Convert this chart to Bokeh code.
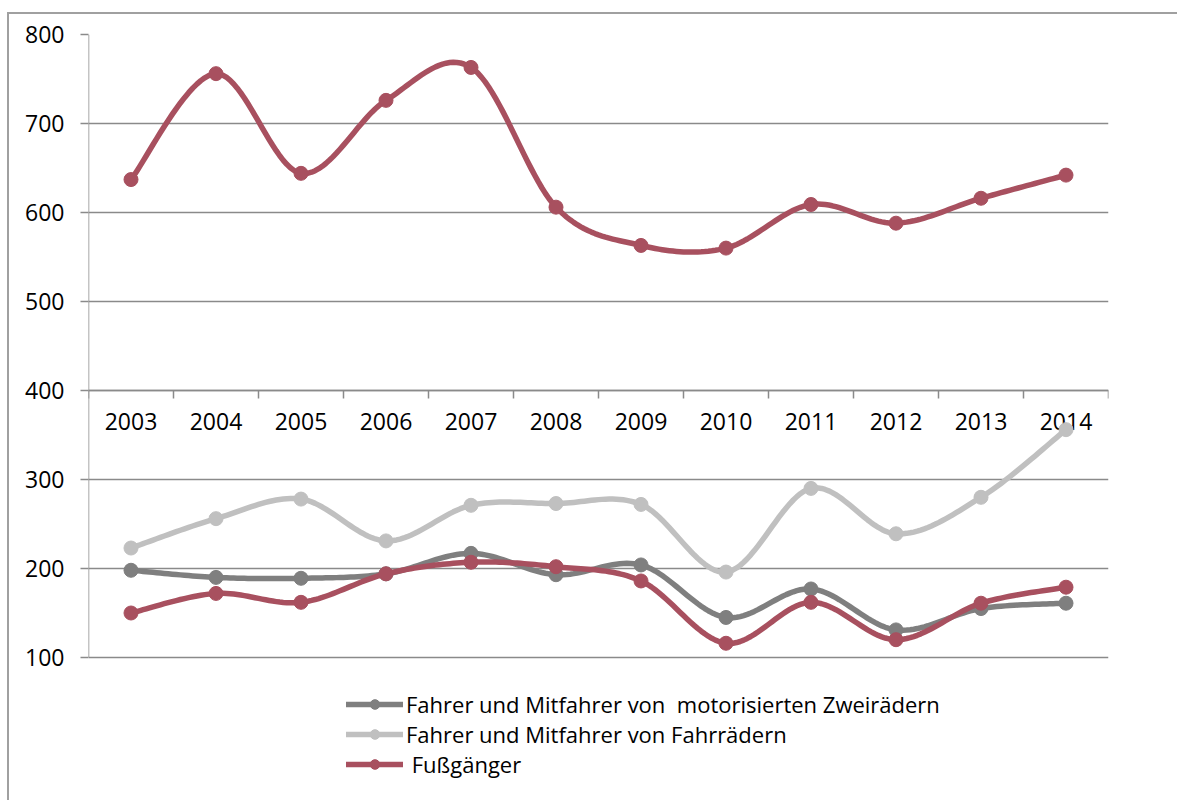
import numpy as np
from bokeh.plotting import figure
from bokeh.models import Range1d, FixedTicker, Span, Legend, LegendItem
from bokeh.core.properties import value
from bokeh.embed import file_html
from bokeh.resources import INLINE

years = ["2003", "2004", "2005", "2006", "2007", "2008", "2009", "2010", "2011", "2012", "2013", "2014"]
y_ticks = [100, 200, 300, 400, 500, 600, 700, 800]

motorrad = [198, 190, 189, 194, 217, 193, 204, 145, 177, 131, 155, 161]
fahrrad = [223, 256, 278, 231, 271, 273, 272, 196, 290, 239, 280, 356]
fussgaenger = [150, 172, 162, 194, 207, 202, 186, 116, 162, 120, 161, 179]
obere_reihe = [637, 756, 644, 726, 763, 606, 563, 560, 609, 588, 616, 642]

names = ["Fahrer und Mitfahrer von  motorisierten Zweirädern",
         "Fahrer und Mitfahrer von Fahrrädern",
         " Fußgänger"]

RED = "#a8505f"
DARK = "#7f7f7f"
LIGHT = "#c0c0c0"
GRID = "#8a8a8a"
FONT = "Open Sans"

xs = np.arange(len(years)) + 0.5
Y_MIN, Y_MAX = y_ticks[0], y_ticks[-1]


def smooth(x, y, n=24):
    x = np.asarray(x, float)
    y = np.asarray(y, float)
    px = np.concatenate([[x[0]], x, [x[-1]]])
    py = np.concatenate([[y[0]], y, [y[-1]]])
    ox, oy = [], []
    for i in range(1, len(px) - 2):
        p0x, p1x, p2x, p3x = px[i - 1], px[i], px[i + 1], px[i + 2]
        p0y, p1y, p2y, p3y = py[i - 1], py[i], py[i + 1], py[i + 2]
        c1x, c1y = p1x + (p2x - p0x) / 6, p1y + (p2y - p0y) / 6
        c2x, c2y = p2x - (p3x - p1x) / 6, p2y - (p3y - p1y) / 6
        t = np.linspace(0, 1, n, endpoint=(i == len(px) - 3))
        a = (1 - t) ** 3
        b = 3 * (1 - t) ** 2 * t
        c = 3 * (1 - t) * t ** 2
        d = t ** 3
        ox.extend(a * p1x + b * c1x + c * c2x + d * p2x)
        oy.extend(a * p1y + b * c1y + c * c2y + d * p2y)
    return ox, oy


# layout: value area is 623 px tall for 700 units; frame extends below it to hold the legend
PX_PER_UNIT = 623 / (Y_MAX - Y_MIN)
EXTRA_PX = 142
y_start = Y_MIN - EXTRA_PX / PX_PER_UNIT

p = figure(width=1170, height=788, output_backend="svg", toolbar_location=None,
           x_range=Range1d(0, 12), y_range=Range1d(y_start, Y_MAX),
           min_border_left=79, min_border_right=71, min_border_top=20, min_border_bottom=3)
p.styles = {"margin-top": "12px", "margin-left": "7px",
            "border-top": "2px solid #a0a0a0", "border-left": "2px solid #a0a0a0"}
p.outline_line_color = None
p.background_fill_color = "white"
p.border_fill_color = "white"

p.xaxis.visible = False
p.xgrid.visible = False
p.ygrid.ticker = FixedTicker(ticks=y_ticks)
p.ygrid.grid_line_color = GRID
p.ygrid.grid_line_width = 1.5

ya = p.yaxis[0]
ya.ticker = FixedTicker(ticks=y_ticks)
ya.axis_line_color = None
ya.major_tick_line_color = GRID
ya.major_tick_line_width = 1.5
ya.major_tick_out = 8
ya.major_tick_in = 0
ya.minor_tick_line_color = None
ya.major_label_text_font = FONT
ya.major_label_text_font_size = "23px"
ya.major_label_text_color = "black"
ya.major_label_standoff = 16

# value axis line only over the value span
p.segment(x0=[0], y0=[Y_MIN], x1=[0], y1=[Y_MAX], line_color=GRID, line_width=1.5)

# category axis crossing at 400
p.add_layout(Span(location=400, dimension="width", line_color=GRID, line_width=1.5))
bounds = np.arange(len(years) + 1)
p.segment(x0=bounds, y0=[400] * len(bounds), x1=bounds, y1=[400 - 8 / PX_PER_UNIT] * len(bounds),
          line_color=GRID, line_width=1.5)
p.text(x=xs, y=[400] * len(years), text=years, text_font=value(FONT), text_font_size="23px",
       text_align="center", text_baseline="middle", y_offset=31, text_color="black")

items = []
for vals, col, name in [(motorrad, DARK, names[0]), (fahrrad, LIGHT, names[1]),
                        (fussgaenger, RED, names[2]), (obere_reihe, RED, None)]:
    sx, sy = smooth(xs, vals)
    lr = p.line(sx, sy, line_color=col, line_width=5.5, line_join="round", line_cap="round")
    sr = p.scatter(xs, vals, size=14, fill_color=col, line_color=col)
    if name is not None:
        items.append(LegendItem(label=name, renderers=[lr, sr]))

legend = Legend(items=items, location=(258, 20), orientation="vertical",
                label_text_font=FONT, label_text_font_size="22px", label_text_color="black",
                glyph_width=57, glyph_height=24, label_standoff=3, spacing=0,
                label_height=24, padding=0, margin=0, border_line_color=None,
                background_fill_alpha=0)
p.add_layout(legend)

open("out.html", "w").write(file_html(p, INLINE))
